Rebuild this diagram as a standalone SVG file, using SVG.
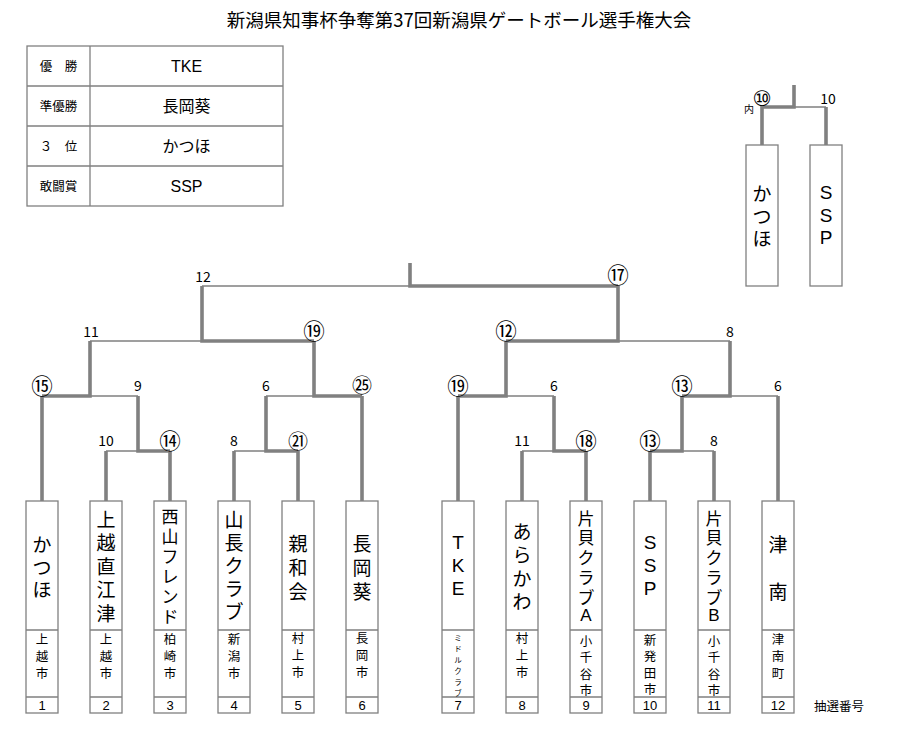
<svg xmlns="http://www.w3.org/2000/svg" width="912" height="729" viewBox="0 0 912 729">
<style>
.t{font-family:"Liberation Sans","Noto Sans CJK JP",sans-serif;fill:#000;text-anchor:middle}
.j{font-family:"Noto Sans CJK JP","Liberation Sans",sans-serif;fill:#000;text-anchor:middle}
.box{fill:#fff;stroke:#808080;stroke-width:1.3}
.thin{fill:none;stroke:#808080;stroke-width:1.3}
.thick{fill:none;stroke:#808080;stroke-width:3.6;stroke-linejoin:miter}
.lbl{font-size:14px}
.cir{font-family:"DejaVu Sans","Noto Sans CJK JP",sans-serif;font-size:21.5px;fill:#000;text-anchor:middle}
.cir2{font-family:"Noto Sans CJK JP",sans-serif;font-size:20px;fill:#000;text-anchor:middle}
.nm{font-size:19px;dominant-baseline:central}
.nm6{font-size:17px;dominant-baseline:central}
.ct{font-size:12.5px;dominant-baseline:central}
.no{font-size:13px;dominant-baseline:central}
</style>
<rect width="912" height="729" fill="#fff"/>
<g id="title"><text class="j" x="459" y="26.5" font-size="18.5">新潟県知事杯争奪第37回新潟県ゲートボール選手権大会</text></g>
<g id="results">
<rect class="box" x="27" y="46" width="256" height="160"/>
<path class="thin" d="M90 46V206M27 86H283M27 126H283M27 166H283"/>
<text class="j" x="58.5" y="71" font-size="12.5">優　勝</text>
<text class="j" x="58.5" y="111" font-size="12.5">準優勝</text>
<text class="j" x="58.5" y="151" font-size="12.5">３　位</text>
<text class="j" x="58.5" y="191" font-size="12.5">敢闘賞</text>
<text class="t" x="186.5" y="72" font-size="16">TKE</text>
<text class="j" x="186.5" y="112" font-size="16">長岡葵</text>
<text class="j" x="186.5" y="152" font-size="16">かつほ</text>
<text class="t" x="186.5" y="192" font-size="16">SSP</text>
</g>
<g id="connectors">
<path class="thin" d="M202 286H410M90 341H202M90 396H138M106 451H138M266 396H314M234 451H266M618 341H730M506 396H554M522 451H554M730 396H778M682 451H714M794 107H826"/>
<path class="thick" d="M410 263V286H618M202 286V341H314M618 286V341H506M90 341V396H42M314 341V396H362M506 341V396H458M730 341V396H682M138 396V451H170M266 396V451H298M554 396V451H586M682 396V451H650M42 396V501M106 451V501M170 451V501M234 451V501M298 451V501M362 396V501M458 396V501M522 451V501M586 451V501M650 451V501M714 451V501M778 396V501M794 85V107H762V145M826 107V145"/>
</g>
<g id="labels">
<text class="j lbl" x="203" y="282">12</text>
<text class="cir" x="618" y="283">⑰</text>
<text class="j lbl" x="91" y="337">11</text>
<text class="cir" x="314" y="339">⑲</text>
<text class="cir" x="506" y="339">⑫</text>
<text class="j lbl" x="730" y="337">8</text>
<text class="cir" x="42" y="393.5">⑮</text>
<text class="j lbl" x="138" y="391">9</text>
<text class="j lbl" x="266" y="391">6</text>
<text class="cir2" x="362" y="393">㉕</text>
<text class="cir" x="458" y="393.5">⑲</text>
<text class="j lbl" x="554" y="391">6</text>
<text class="cir" x="682" y="393.5">⑬</text>
<text class="j lbl" x="778" y="391">6</text>
<text class="j lbl" x="106" y="446">10</text>
<text class="cir" x="170" y="449">⑭</text>
<text class="j lbl" x="234" y="446">8</text>
<text class="cir2" x="298" y="448.5">㉑</text>
<text class="j lbl" x="522" y="446">11</text>
<text class="cir" x="586" y="449">⑱</text>
<text class="cir" x="650" y="449">⑬</text>
<text class="j lbl" x="714" y="446">8</text>
<text class="cir" x="762" y="106">⑩</text>
<text class="j lbl" x="828" y="104">10</text>
<text class="j" x="749" y="113" font-size="10">内</text>
</g>
<g id="final-katsuho">
<rect class="box" x="746" y="145" width="32" height="141"/>
<text class="j nm"><tspan x="762" y="192">か</tspan><tspan x="762" y="214.5">つ</tspan><tspan x="762" y="237">ほ</tspan></text>
</g>
<g id="final-ssp">
<rect class="box" x="810" y="145" width="32" height="141"/>
<text class="t nm"><tspan x="826" y="192">S</tspan><tspan x="826" y="214.5">S</tspan><tspan x="826" y="237">P</tspan></text>
</g>
<g id="team1">
<rect class="box" x="26" y="501" width="32" height="212"/><path class="thin" d="M26 630H58M26 697H58"/>
<text class="j nm"><tspan x="42" y="543">か</tspan><tspan x="42" y="565.5">つ</tspan><tspan x="42" y="588">ほ</tspan></text>
<text class="j ct"><tspan x="42" y="638">上</tspan><tspan x="42" y="655">越</tspan><tspan x="42" y="672">市</tspan></text>
<text class="t no" x="42" y="705">1</text>
</g>
<g id="team2">
<rect class="box" x="90" y="501" width="32" height="212"/><path class="thin" d="M90 630H122M90 697H122"/>
<text class="j nm"><tspan x="106" y="518">上</tspan><tspan x="106" y="541.4">越</tspan><tspan x="106" y="564.8">直</tspan><tspan x="106" y="588.2">江</tspan><tspan x="106" y="611.6">津</tspan></text>
<text class="j ct"><tspan x="106" y="638">上</tspan><tspan x="106" y="655">越</tspan><tspan x="106" y="672">市</tspan></text>
<text class="t no" x="106" y="705">2</text>
</g>
<g id="team3">
<rect class="box" x="154" y="501" width="32" height="212"/><path class="thin" d="M154 630H186M154 697H186"/>
<text class="j nm6"><tspan x="170" y="515">西</tspan><tspan x="170" y="535">山</tspan><tspan x="170" y="555">フ</tspan><tspan x="170" y="575">レ</tspan><tspan x="170" y="595">ン</tspan><tspan x="170" y="615">ド</tspan></text>
<text class="j ct"><tspan x="170" y="638">柏</tspan><tspan x="170" y="655">崎</tspan><tspan x="170" y="672">市</tspan></text>
<text class="t no" x="170" y="705">3</text>
</g>
<g id="team4">
<rect class="box" x="218" y="501" width="32" height="212"/><path class="thin" d="M218 630H250M218 697H250"/>
<text class="j nm"><tspan x="234" y="518">山</tspan><tspan x="234" y="541">長</tspan><tspan x="234" y="564">ク</tspan><tspan x="234" y="587">ラ</tspan><tspan x="234" y="610">ブ</tspan></text>
<text class="j ct"><tspan x="234" y="638">新</tspan><tspan x="234" y="655">潟</tspan><tspan x="234" y="672">市</tspan></text>
<text class="t no" x="234" y="705">4</text>
</g>
<g id="team5">
<rect class="box" x="282" y="501" width="32" height="212"/><path class="thin" d="M282 630H314M282 697H314"/>
<text class="j nm"><tspan x="298" y="542">親</tspan><tspan x="298" y="566">和</tspan><tspan x="298" y="590">会</tspan></text>
<text class="j ct"><tspan x="298" y="637">村</tspan><tspan x="298" y="654">上</tspan><tspan x="298" y="671">市</tspan></text>
<text class="t no" x="298" y="705">5</text>
</g>
<g id="team6">
<rect class="box" x="346" y="501" width="32" height="212"/><path class="thin" d="M346 630H378M346 697H378"/>
<text class="j nm"><tspan x="362" y="542">長</tspan><tspan x="362" y="566">岡</tspan><tspan x="362" y="590">葵</tspan></text>
<text class="j ct"><tspan x="362" y="637">長</tspan><tspan x="362" y="654">岡</tspan><tspan x="362" y="671">市</tspan></text>
<text class="t no" x="362" y="705">6</text>
</g>
<g id="team7">
<rect class="box" x="442" y="501" width="32" height="212"/><path class="thin" d="M442 630H474M442 697H474"/>
<text class="t nm"><tspan x="458" y="542">T</tspan><tspan x="458" y="565">K</tspan><tspan x="458" y="588">E</tspan></text>
<text class="j" font-size="7.5" dominant-baseline="central"><tspan x="458" y="637">ミ</tspan><tspan x="458" y="648">ド</tspan><tspan x="458" y="659">ル</tspan><tspan x="458" y="670">ク</tspan><tspan x="458" y="681">ラ</tspan><tspan x="458" y="692">ブ</tspan></text>
<text class="t no" x="458" y="705">7</text>
</g>
<g id="team8">
<rect class="box" x="506" y="501" width="32" height="212"/><path class="thin" d="M506 630H538M506 697H538"/>
<text class="j nm"><tspan x="522" y="530">あ</tspan><tspan x="522" y="553.3">ら</tspan><tspan x="522" y="576.6">か</tspan><tspan x="522" y="600">わ</tspan></text>
<text class="j ct"><tspan x="522" y="637">村</tspan><tspan x="522" y="654">上</tspan><tspan x="522" y="671">市</tspan></text>
<text class="t no" x="522" y="705">8</text>
</g>
<g id="team9">
<rect class="box" x="570" y="501" width="32" height="212"/><path class="thin" d="M570 630H602M570 697H602"/>
<text class="j nm6"><tspan x="586" y="516.7">片</tspan><tspan x="586" y="536.4">貝</tspan><tspan x="586" y="556.1">ク</tspan><tspan x="586" y="575.8">ラ</tspan><tspan x="586" y="595.5">ブ</tspan><tspan x="586" y="615.2" font-family="Liberation Sans">A</tspan></text>
<text class="j ct"><tspan x="586" y="640">小</tspan><tspan x="586" y="656.3">千</tspan><tspan x="586" y="672.6">谷</tspan><tspan x="586" y="689">市</tspan></text>
<text class="t no" x="586" y="705">9</text>
</g>
<g id="team10">
<rect class="box" x="634" y="501" width="32" height="212"/><path class="thin" d="M634 630H666M634 697H666"/>
<text class="t nm"><tspan x="650" y="542">S</tspan><tspan x="650" y="565">S</tspan><tspan x="650" y="588">P</tspan></text>
<text class="j ct"><tspan x="650" y="639">新</tspan><tspan x="650" y="655.4">発</tspan><tspan x="650" y="671.8">田</tspan><tspan x="650" y="688.2">市</tspan></text>
<text class="t no" x="650" y="705">10</text>
</g>
<g id="team11">
<rect class="box" x="698" y="501" width="32" height="212"/><path class="thin" d="M698 630H730M698 697H730"/>
<text class="j nm6"><tspan x="714" y="516.7">片</tspan><tspan x="714" y="536.4">貝</tspan><tspan x="714" y="556.1">ク</tspan><tspan x="714" y="575.8">ラ</tspan><tspan x="714" y="595.5">ブ</tspan><tspan x="714" y="615.2" font-family="Liberation Sans">B</tspan></text>
<text class="j ct"><tspan x="714" y="640">小</tspan><tspan x="714" y="656.3">千</tspan><tspan x="714" y="672.6">谷</tspan><tspan x="714" y="689">市</tspan></text>
<text class="t no" x="714" y="705">11</text>
</g>
<g id="team12">
<rect class="box" x="762" y="501" width="32" height="212"/><path class="thin" d="M762 630H794M762 697H794"/>
<text class="j nm"><tspan x="778" y="543">津</tspan><tspan x="778" y="590">南</tspan></text>
<text class="j ct"><tspan x="778" y="638">津</tspan><tspan x="778" y="655">南</tspan><tspan x="778" y="672">町</tspan></text>
<text class="t no" x="778" y="705">12</text>
</g>
<g id="draw-label"><text class="j" x="839" y="711" font-size="12.5">抽選番号</text></g>
</svg>
